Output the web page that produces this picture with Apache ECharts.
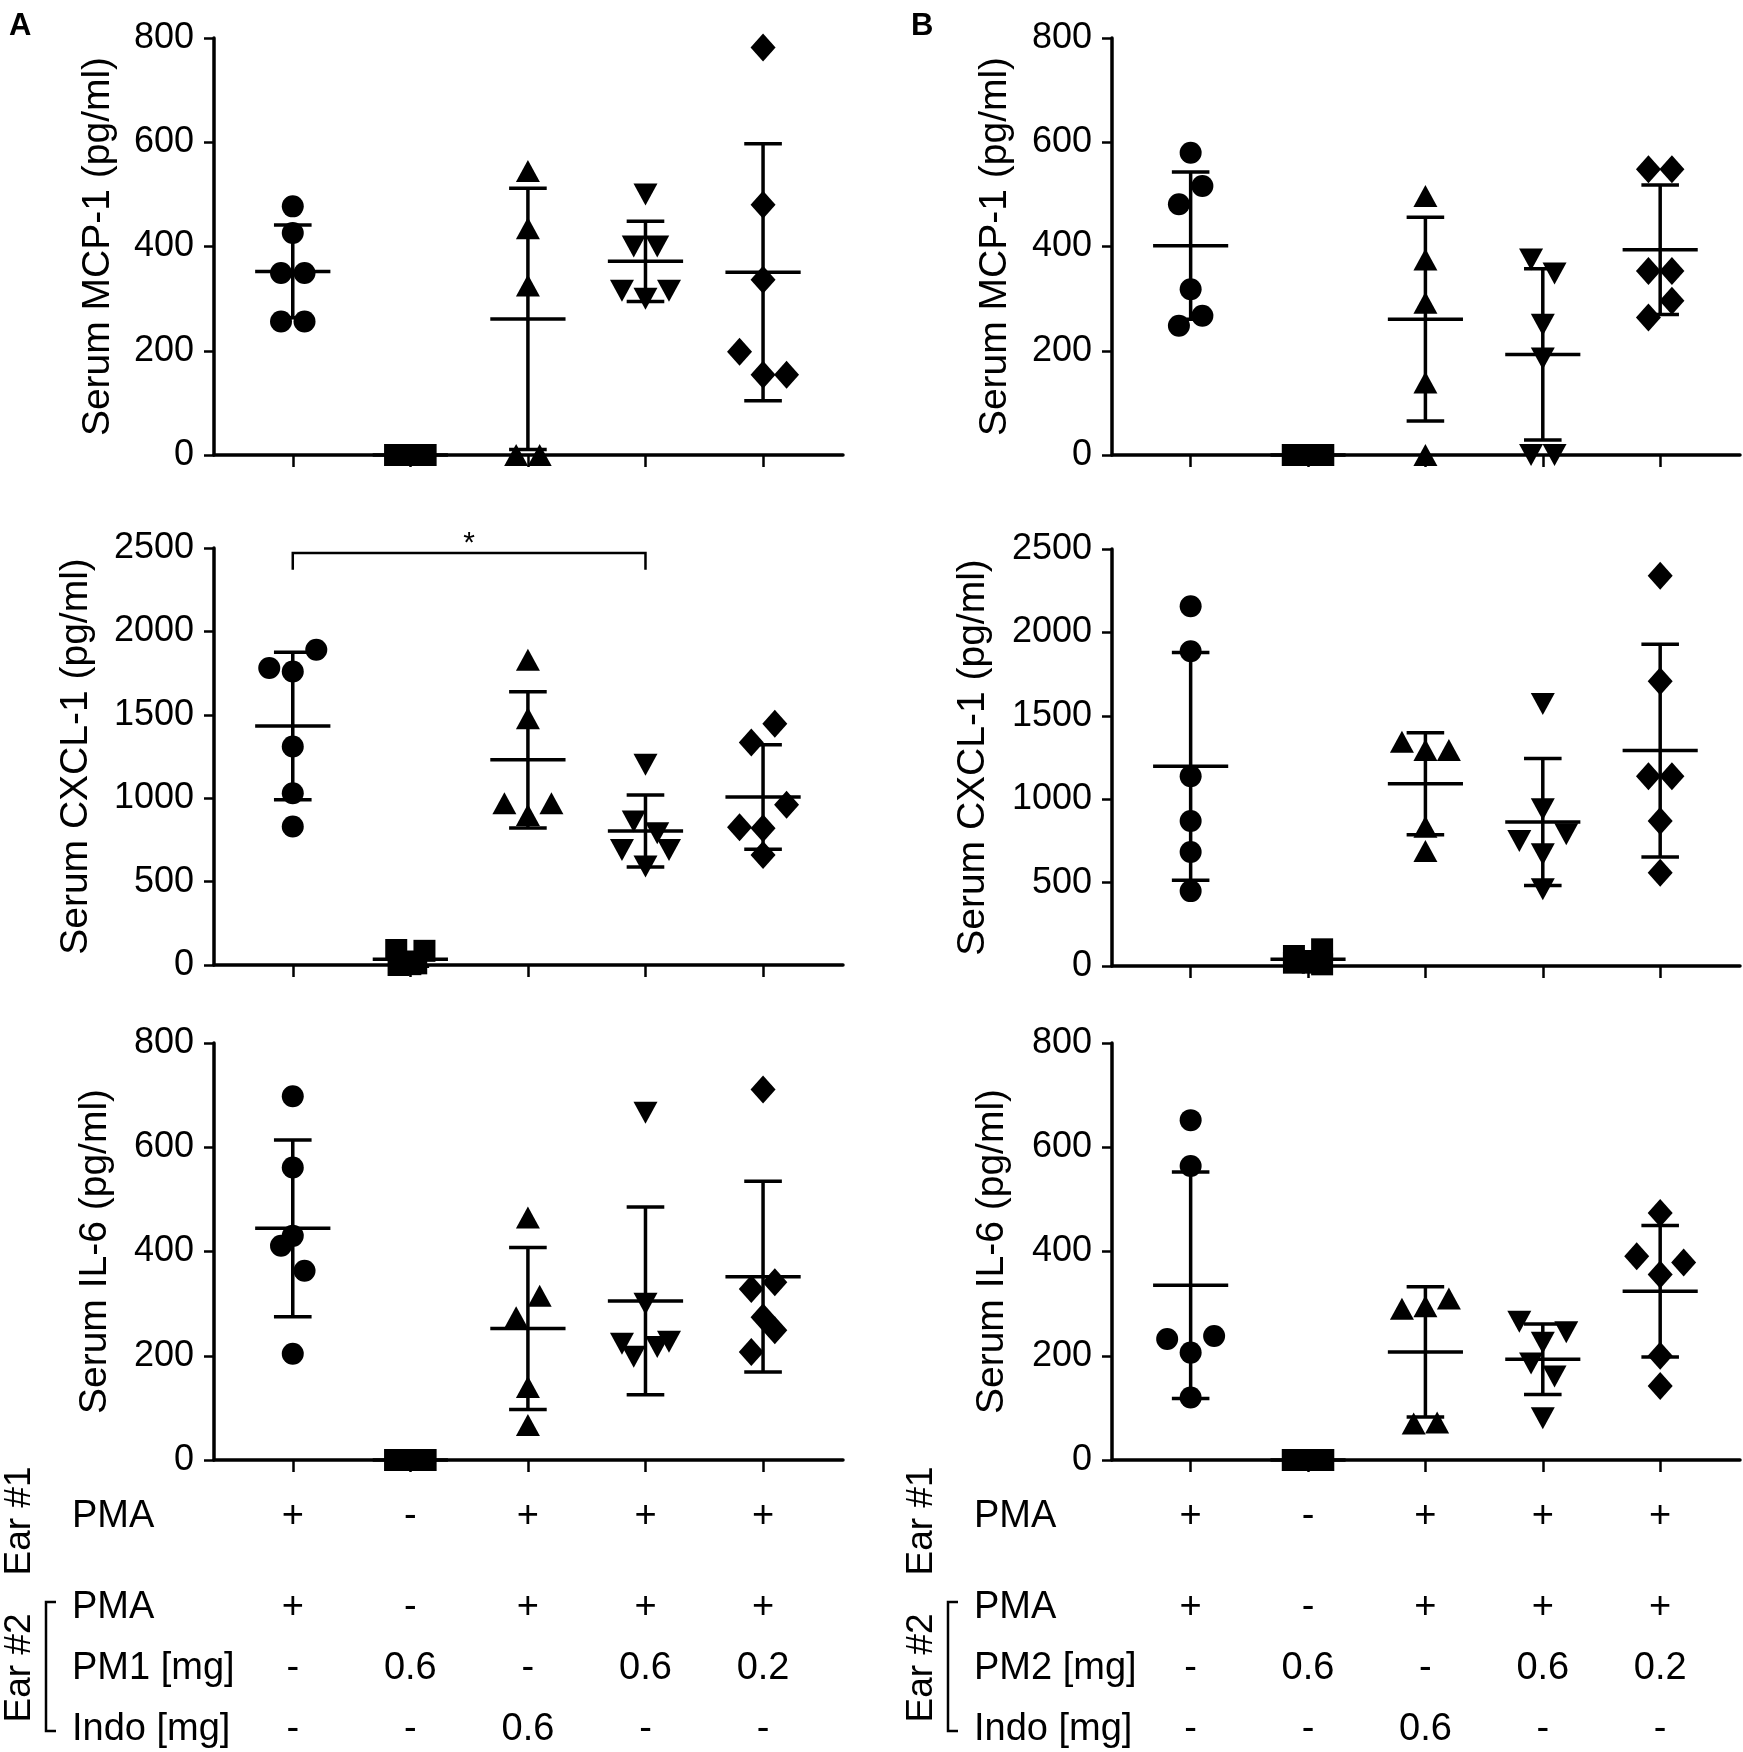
<!DOCTYPE html>
<html>
<head>
<meta charset="utf-8">
<script src="https://cdn.jsdelivr.net/npm/echarts@6/dist/echarts.min.js"></script>
<style>
  html, body { margin: 0; padding: 0; background: #fff; }
  #chart { width: 1743px; height: 1752px; }
</style>
</head>
<body>
<div id="chart"></div>
<script>
// === Data (pg/ml), one array per treatment group, columns left to right
const SYMBOLS = ['circle', 'rect', 'triangle', 'triangle', 'diamond'];
const SYMBOL_ROTATE = [0, 0, 0, 180, 0];

// swarm slot of each point (GraphPad spreads overlapping points sideways)
const A_MCP1 = [[477, 426, 349, 349, 256, 256], [0, 0, 0, 0, 0, 0], [545, 435, 325, 0, 0], [500, 400, 400, 315, 300, 315], [782, 480, 336, 198, 154, 154]];
const A_MCP1_SLOT = [[0, 0, -1, 1, -1, 1], [-1.3, -0.8, -0.3, 0.3, 0.8, 1.3], [0, 0, 0, -1, 1], [0, -1, 1, -2, 0, 2], [0, 0, 0, -2, 0, 2]];

const A_CXCL1 = [[1890, 1780, 1760, 1310, 1030, 830], [90, 85, 15, 10, 5, 0], [1830, 1480, 970, 970, 900], [1200, 860, 790, 690, 690, 590], [1446, 1334, 960, 826, 820, 660]];
const A_CXCL1_SLOT = [[2, -2, 0, 0, 0, 0], [-1.2, 1.2, -0.5, 0.5, 0, -1], [0, 0, -2, 2, 0], [0, -1, 1, -2, 2, 0], [1, -1, 2, -2, 0, 0]];

const A_IL6 = [[698, 561, 430, 411, 363, 204], [0, 0, 0, 0, 0, 0], [465, 315, 274, 140, 67], [666, 300, 223, 198, 217, 227], [711, 341, 328, 274, 249, 207]];
const A_IL6_SLOT = [[0, 0, 0, -1, 1, 0], [-1.3, -0.8, -0.3, 0.3, 0.8, 1.3], [0, 1, -1, 0, 0], [0, 0, -2, -1, 1, 2], [0, 1, -1, 0, 1, -1]];

const B_MCP1 = [[580, 516, 481, 318, 267, 248], [0, 0, 0, 0, 0, 0], [497, 375, 292, 139, 0], [375, 348, 250, 185, 0, 0], [548, 548, 353, 353, 296, 264]];
const B_MCP1_SLOT = [[0, 1, -1, 0, 1, -1], [-1.3, -0.8, -0.3, 0.3, 0.8, 1.3], [0, 0, 0, 0, 0], [-1, 1, 0, 0, -1, 1], [-1, 1, -1, 1, 1, -1]];

const B_CXCL1 = [[2157, 1887, 1138, 869, 683, 449], [100, 60, 30, 20, 10, 20], [1345, 1295, 1295, 835, 690], [1570, 940, 750, 790, 670, 460], [2340, 1707, 1138, 1138, 869, 559]];
const B_CXCL1_SLOT = [[0, 0, 0, 0, 0, 0], [1.2, -1.2, -0.4, 0.4, 1.2, -1.2], [-2, 0, 2, 0, 0], [0, 0, -2, 2, 0, 0], [0, 0, -1, 1, 0, 0]];

const B_IL6 = [[652, 564, 232, 238, 206, 120], [0, 0, 0, 0, 0, 0], [290, 295, 310, 70, 72], [265, 245, 225, 185, 160, 80], [474, 391, 379, 356, 200, 142]];
const B_IL6_SLOT = [[0, 0, -2, 2, 0, 0], [-1.3, -0.8, -0.3, 0.3, 0.8, 1.3], [-2, 0, 2, -1, 1], [-2, 2, 0, -1, 1, 0], [0, -2, 2, 0, 0, 0]];

// significance bracket in panel A, CXCL-1 (from column, to column)
const SIG_A_CXCL1 = { from: 0, to: 3, level: 2470, foot: 2370, label: '*' };

// treatment table under the plots
const ROW_EAR1_PMA = ['+', '-', '+', '+', '+'];
const ROW_EAR2_PMA = ['+', '-', '+', '+', '+'];
const ROW_PM = ['-', '0.6', '-', '0.6', '0.2'];
const ROW_INDO = ['-', '-', '0.6', '-', '-'];
const ROW_TITLES_A = ['PMA', 'PMA', 'PM1 [mg]', 'Indo [mg]'];
const ROW_TITLES_B = ['PMA', 'PMA', 'PM2 [mg]', 'Indo [mg]'];

// === Layout / style
const FONT = '"Liberation Sans", Arial, sans-serif';
const X_MIN = -0.67, X_MAX = 4.68;
const SLOT_W = 0.1;
const MEAN_HALF = 0.32, CAP_HALF = 0.16;
const LINE_W = 3.5;
const COLS = [{ left: 214, width: 629 }, { left: 1112, width: 628 }];
const ROWS_TOP = [[38, 548, 1043], [38, 549, 1043]];
const PLOT_H = 417;
const ROW_Y = [1517, 1608, 1669, 1730];

const PANELS = [
    { col: 0, row: 0, data: A_MCP1, slot: A_MCP1_SLOT, max: 800, step: 200, title: 'Serum MCP-1 (pg/ml)', gap: 96 },
    { col: 0, row: 1, data: A_CXCL1, slot: A_CXCL1_SLOT, max: 2500, step: 500, title: 'Serum CXCL-1 (pg/ml)', gap: 118 },
    { col: 0, row: 2, data: A_IL6, slot: A_IL6_SLOT, max: 800, step: 200, title: 'Serum IL-6 (pg/ml)', gap: 99 },
    { col: 1, row: 0, data: B_MCP1, slot: B_MCP1_SLOT, max: 800, step: 200, title: 'Serum MCP-1 (pg/ml)', gap: 97 },
    { col: 1, row: 1, data: B_CXCL1, slot: B_CXCL1_SLOT, max: 2500, step: 500, title: 'Serum CXCL-1 (pg/ml)', gap: 119 },
    { col: 1, row: 2, data: B_IL6, slot: B_IL6_SLOT, max: 800, step: 200, title: 'Serum IL-6 (pg/ml)', gap: 100 }
];

// mean and sample SD of a group
function meanSd(arr) {
    const m = arr.reduce((a, b) => a + b, 0) / arr.length;
    const v = arr.reduce((a, b) => a + (b - m) * (b - m), 0) / (arr.length - 1);
    return [m, Math.sqrt(v)];
}

function lineShape(p1, p2) {
    return {
        type: 'line',
        shape: { x1: p1[0], y1: p1[1], x2: p2[0], y2: p2[1] },
        style: { stroke: '#000', lineWidth: LINE_W }
    };
}

// mean line + SD whiskers with caps
function renderErrorBar(params, api) {
    const i = api.value(0), m = api.value(1), sd = api.value(2);
    const children = [lineShape(api.coord([i - MEAN_HALF, m]), api.coord([i + MEAN_HALF, m]))];
    if (sd > 0) {
        children.push(lineShape(api.coord([i, m - sd]), api.coord([i, m + sd])));
        children.push(lineShape(api.coord([i - CAP_HALF, m + sd]), api.coord([i + CAP_HALF, m + sd])));
        children.push(lineShape(api.coord([i - CAP_HALF, m - sd]), api.coord([i + CAP_HALF, m - sd])));
    }
    return { type: 'group', children: children };
}

function renderBracket(params, api) {
    const a = api.value(0), b = api.value(1), lvl = api.value(2), foot = api.value(3);
    const p = [api.coord([a, foot]), api.coord([a, lvl]), api.coord([b, lvl]), api.coord([b, foot])];
    const mid = api.coord([(a + b) / 2, lvl]);
    return {
        type: 'group',
        children: [
            { type: 'polyline', shape: { points: p }, style: { stroke: '#000', lineWidth: 2.5, fill: null } },
            { type: 'text', x: mid[0], y: mid[1] + 6,
              style: { text: SIG_A_CXCL1.label, font: '30px ' + FONT, fill: '#000', align: 'center', verticalAlign: 'bottom' } }
        ]
    };
}

function symbolSize(g) {
    if (g === 4) return [25, 28];
    if (g === 2 || g === 3) return [24, 22];
    return 22;
}

const grids = [], xAxes = [], yAxes = [], series = [];

PANELS.forEach((p, k) => {
    grids.push({ left: COLS[p.col].left, width: COLS[p.col].width, top: ROWS_TOP[p.col][p.row], height: PLOT_H, containLabel: false });
    xAxes.push({
        type: 'value', gridIndex: k, min: X_MIN, max: X_MAX,
        axisLine: { show: true, onZero: false, lineStyle: { color: '#000', width: LINE_W } },
        axisTick: { show: true, customValues: [0, 1, 2, 3, 4], length: 12, lineStyle: { color: '#000', width: 2.5 } },
        axisLabel: { show: false },
        splitLine: { show: false }
    });
    yAxes.push({
        type: 'value', gridIndex: k, min: 0, max: p.max, interval: p.step,
        name: p.title, nameLocation: 'middle', nameGap: p.gap,
        nameTextStyle: { fontFamily: FONT, fontSize: 39, color: '#000' },
        axisLine: { show: true, onZero: false, lineStyle: { color: '#000', width: LINE_W } },
        axisTick: { show: true, length: 10, lineStyle: { color: '#000', width: 2.5 } },
        axisLabel: { fontFamily: FONT, fontSize: 36, color: '#000', margin: 20, formatter: (v) => String(v) },
        splitLine: { show: false }
    });

    const bars = [];
    p.data.forEach((vals, g) => {
        series.push({
            type: 'scatter', xAxisIndex: k, yAxisIndex: k, clip: false,
            symbol: SYMBOLS[g], symbolRotate: SYMBOL_ROTATE[g], symbolSize: symbolSize(g),
            itemStyle: { color: '#000', opacity: 1 },
            data: vals.map((v, j) => [g + p.slot[g][j] * SLOT_W, v]),
            z: 3
        });
        const ms = meanSd(vals);
        bars.push([g, ms[0], ms[1]]);
    });
    series.push({
        type: 'custom', xAxisIndex: k, yAxisIndex: k, clip: false,
        renderItem: renderErrorBar, data: bars, z: 4
    });
});

// significance bracket on panel A CXCL-1
series.push({
    type: 'custom', xAxisIndex: 1, yAxisIndex: 1, clip: false,
    renderItem: renderBracket,
    data: [[SIG_A_CXCL1.from, SIG_A_CXCL1.to, SIG_A_CXCL1.level, SIG_A_CXCL1.foot]]
});

// treatment table rows as label-only axes under the IL-6 plots
const TABLE_ROWS = [ROW_EAR1_PMA, ROW_EAR2_PMA, ROW_PM, ROW_INDO];
[2, 5].forEach((k) => {
    const axisY = grids[k].top + PLOT_H;
    TABLE_ROWS.forEach((row, r) => {
        xAxes.push({
            type: 'value', gridIndex: k, min: X_MIN, max: X_MAX, position: 'bottom',
            offset: ROW_Y[r] - axisY,
            axisLine: { show: false }, axisTick: { show: false }, splitLine: { show: false },
            axisLabel: {
                show: true, customValues: [0, 1, 2, 3, 4], margin: 0, verticalAlign: 'middle',
                fontFamily: FONT, fontSize: 38, color: '#000',
                formatter: (v) => row[Math.round(v)]
            }
        });
    });
});

// side titles, Ear labels, brackets, panel letters
const graphic = [];
[{ x0: 0, titles: ROW_TITLES_A, letter: 'A' }, { x0: 902, titles: ROW_TITLES_B, letter: 'B' }].forEach((c) => {
    graphic.push({ type: 'text', left: c.x0 + 9, top: 11, style: { text: c.letter, font: 'bold 31px ' + FONT, fill: '#000' } });
    c.titles.forEach((t, r) => {
        graphic.push({ type: 'text', x: c.x0 + 72, y: ROW_Y[r], style: { text: t, font: '38px ' + FONT, fill: '#000', verticalAlign: 'middle' } });
    });
    graphic.push({ type: 'text', x: c.x0 + 20, y: 1521, rotation: Math.PI / 2,
        style: { text: 'Ear #1', font: '37px ' + FONT, fill: '#000', align: 'center', verticalAlign: 'middle' } });
    graphic.push({ type: 'text', x: c.x0 + 20, y: 1668, rotation: Math.PI / 2,
        style: { text: 'Ear #2', font: '37px ' + FONT, fill: '#000', align: 'center', verticalAlign: 'middle' } });
    graphic.push({ type: 'polyline', shape: { points: [[c.x0 + 56, 1602], [c.x0 + 46, 1602], [c.x0 + 46, 1731], [c.x0 + 56, 1731]] },
        style: { stroke: '#000', lineWidth: 2.5, fill: null } });
});

const chart = echarts.init(document.getElementById('chart'), null, { renderer: 'canvas' });
chart.setOption({
    backgroundColor: '#fff',
    animation: false,
    grid: grids,
    xAxis: xAxes,
    yAxis: yAxes,
    series: series,
    graphic: graphic
});
</script>
</body>
</html>
